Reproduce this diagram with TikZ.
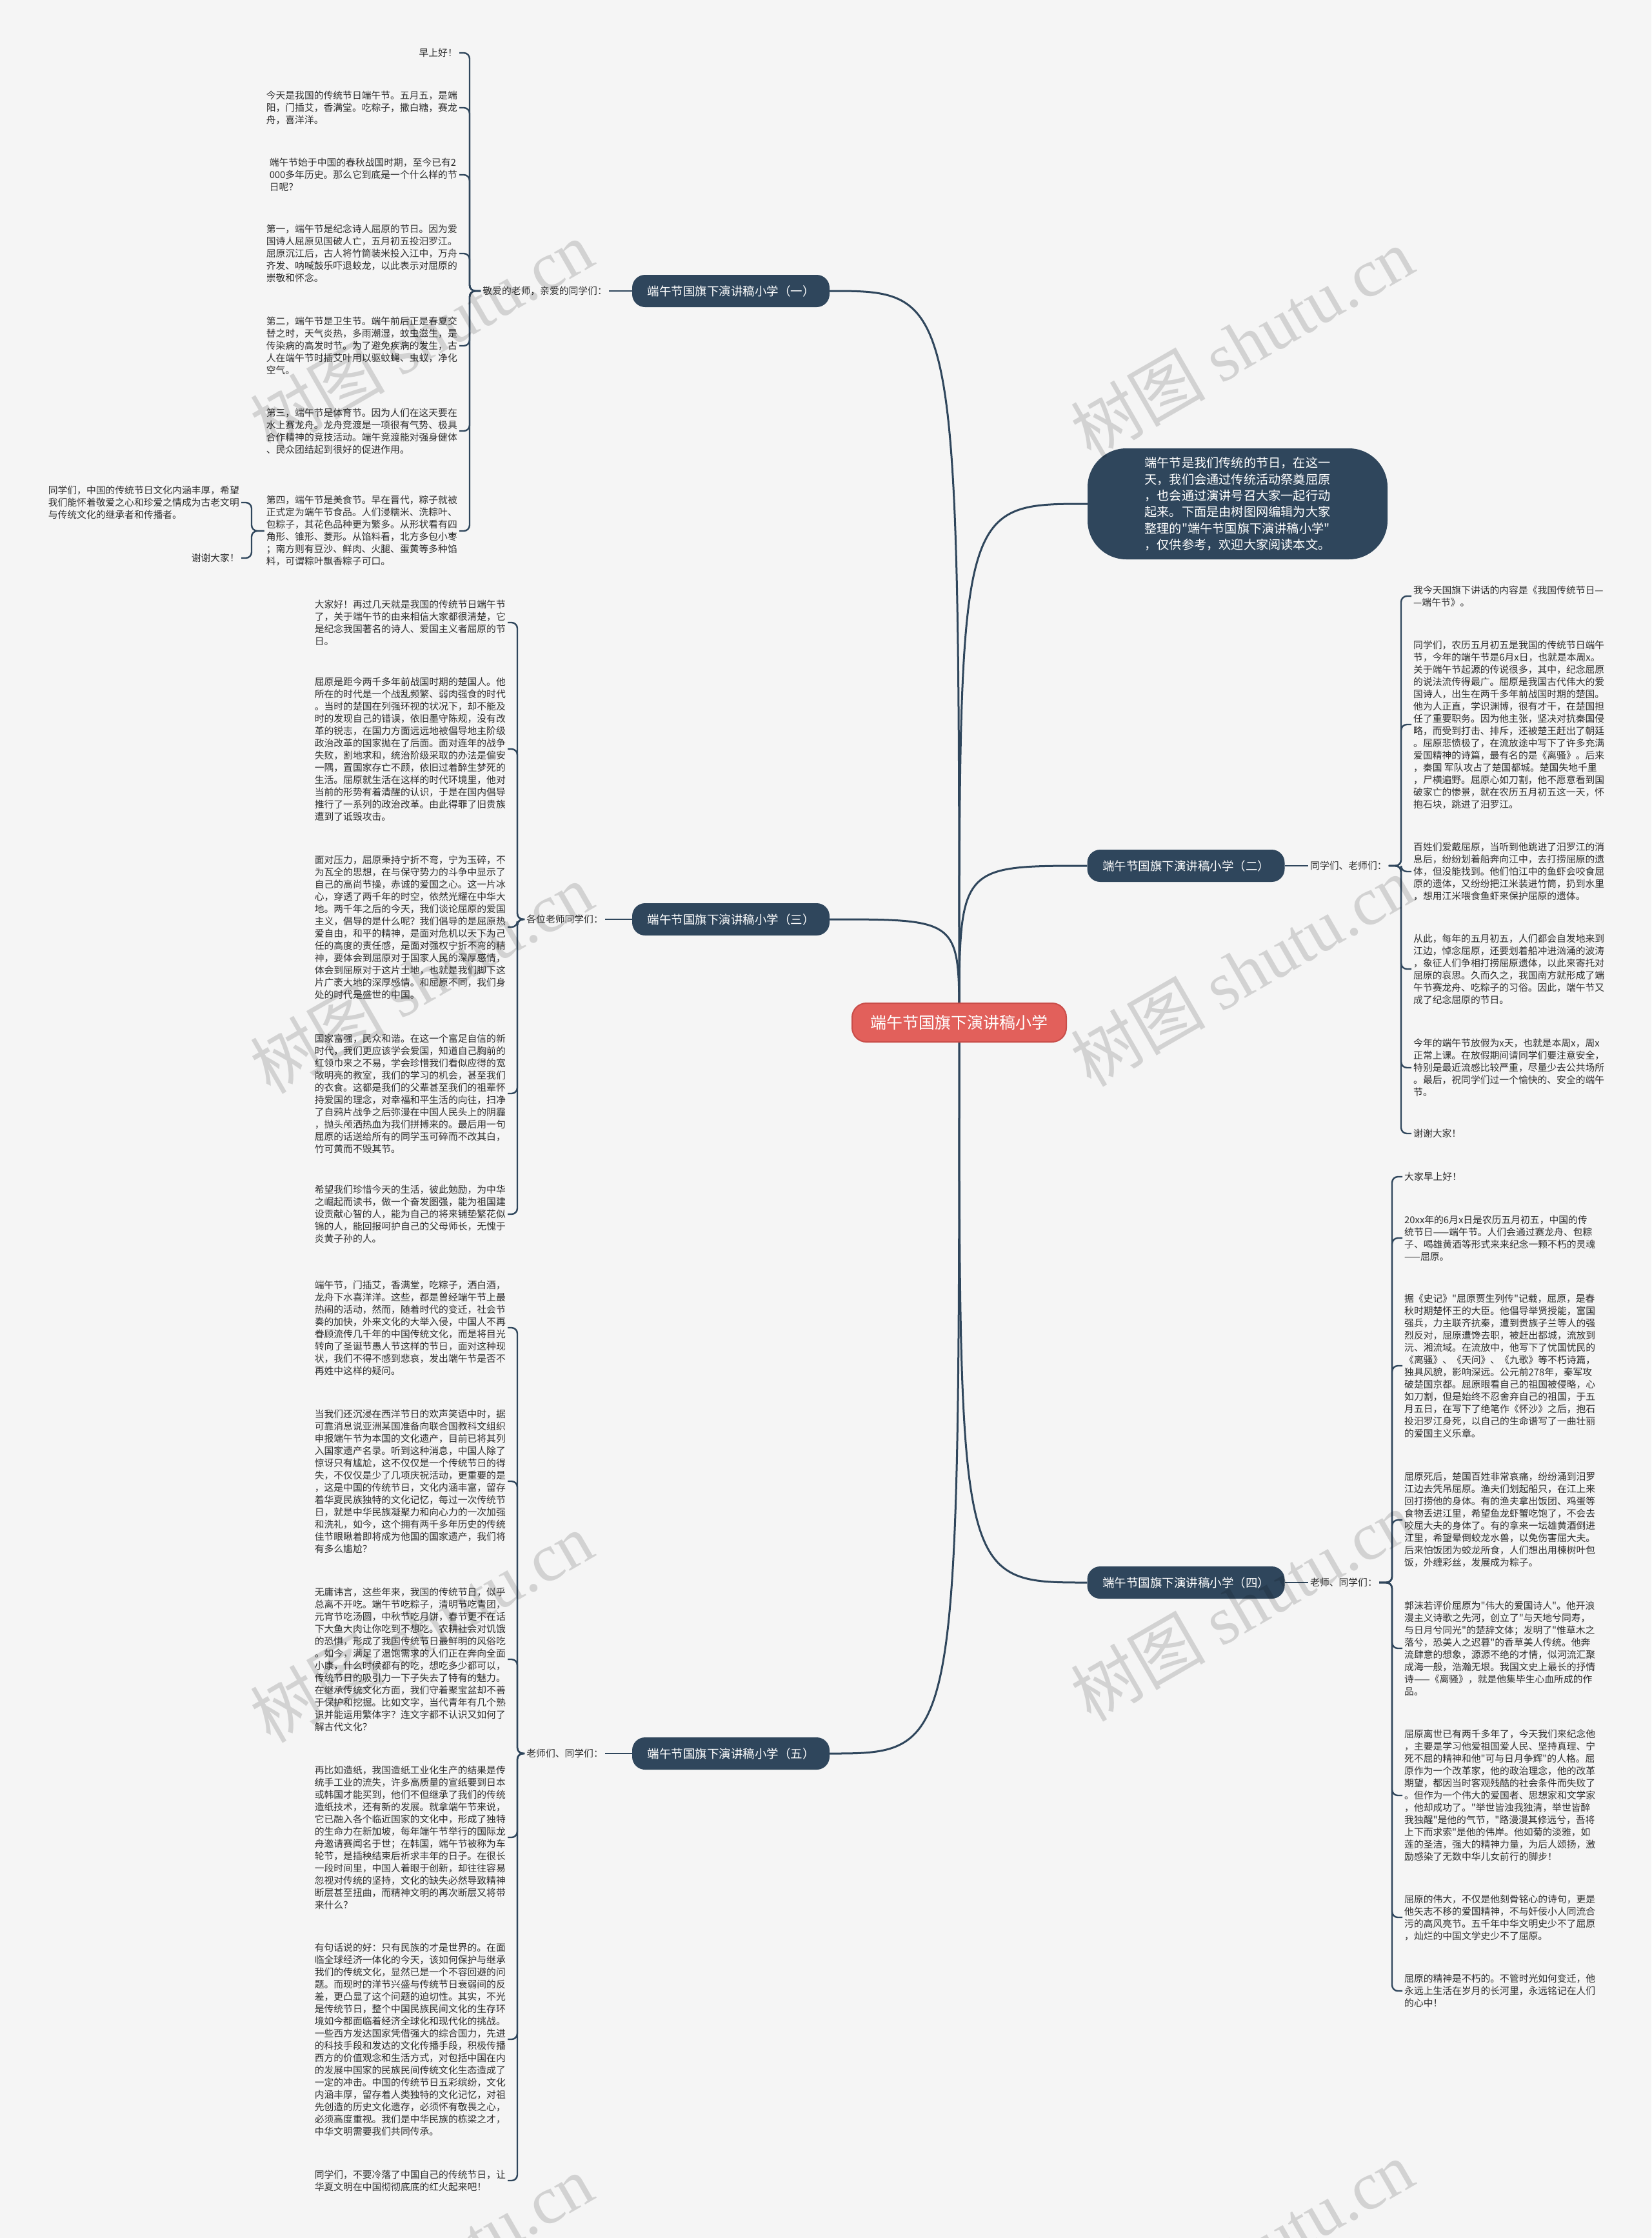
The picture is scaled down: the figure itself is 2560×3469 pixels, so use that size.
\documentclass[tikz,border=0pt]{standalone}
\usepackage{fontspec}
\setmainfont{Noto Sans CJK SC}
\newfontfamily\cjk{Noto Sans CJK SC}
\newfontfamily\wmlat{Liberation Serif}
\usetikzlibrary{backgrounds}
\definecolor{bgc}{HTML}{F5F5F5}
\definecolor{navy}{HTML}{2F465C}
\definecolor{linec}{HTML}{2F465C}
\definecolor{redc}{HTML}{E2605B}
\definecolor{redb}{HTML}{C94D49}
\definecolor{txtc}{HTML}{2E2E2E}
\begin{document}
\begin{tikzpicture}[x=1pt,y=-1pt,
  txt/.style={font=\cjk\fontsize{14.8}{19}\selectfont, text=txtc, align=left, inner sep=3pt},
  lch/.style={txt, anchor=east},
  rch/.style={txt, anchor=west},
  brn/.style={fill=navy, text=white, rounded corners=20pt, minimum width=306pt, minimum height=50pt, inner sep=0pt, font=\cjk\fontsize{18.5}{22}\selectfont},
  link/.style={draw=linec, line width=3pt},
  sub/.style={draw=linec, line width=2.4pt, rounded corners=9pt},
  wm/.style={text=black, opacity=0.14, font=\cjk\fontsize{105}{110}\selectfont, rotate=30}
]
\useasboundingbox (0,0) rectangle (2560,3469);

% ---------- root and main branches ----------
\node[fill=redc, draw=redb, line width=2pt, text=white, rounded corners=22pt, minimum width=332pt, minimum height=60pt, inner sep=0pt, font=\cjk\fontsize{25}{30}\selectfont] (root) at (1487,1585) {端午节国旗下演讲稿小学};

\node[fill=navy, text=white, rounded corners=60pt, minimum width=465pt, minimum height=172pt, align=left, font=\cjk\fontsize{19.2}{25.3}\selectfont] (intro) at (1918.5,781) {端午节是我们传统的节日，在这一\\天，我们会通过传统活动祭奠屈原\\，也会通过演讲号召大家一起行动\\起来。下面是由树图网编辑为大家\\整理的"端午节国旗下演讲稿小学"\\，仅供参考，欢迎大家阅读本文。};

\node[brn] (b1) at (1133,451) {端午节国旗下演讲稿小学（一）};
\node[brn] (b3) at (1133,1425) {端午节国旗下演讲稿小学（三）};
\node[brn] (b5) at (1133,2718) {端午节国旗下演讲稿小学（五）};
\node[brn] (b2) at (1838.5,1342) {端午节国旗下演讲稿小学（二）};
\node[brn] (b4) at (1838.5,2453) {端午节国旗下演讲稿小学（四）};

% ---------- labels ----------
\node[lch] (l1) at (944,451) {敬爱的老师，亲爱的同学们：};
\node[lch] (l3) at (938,1425) {各位老师同学们：};
\node[lch] (l5) at (938,2718) {老师们、同学们：};
\node[rch] (l2) at (2028,1342) {同学们、老师们：};
\node[rch] (l4) at (2028,2453) {老师、同学们：};

\coordinate (s1) at (728,451);
\coordinate (s3) at (802,1425);
\coordinate (s5) at (802,2718);
\coordinate (s2) at (2172,1342);
\coordinate (s4) at (2158,2453);
\coordinate (s17) at (390,823);

% ---------- branch 1 ----------
\node[lch] (c11) at (712,82) {早上好！};
\node[lch] (c12) at (712,167) {今天是我国的传统节日端午节。五月五，是端\\阳，门插艾，香满堂。吃粽子，撒白糖，赛龙\\舟，喜洋洋。};
\node[lch] (c13) at (712,271) {端午节始于中国的春秋战国时期，至今已有2\\000多年历史。那么它到底是一个什么样的节\\日呢？};
\node[lch] (c14) at (712,393) {第一，端午节是纪念诗人屈原的节日。因为爱\\国诗人屈原见国破人亡，五月初五投汨罗江。\\屈原沉江后，古人将竹筒装米投入江中，万舟\\齐发、呐喊鼓乐吓退蛟龙，以此表示对屈原的\\崇敬和怀念。};
\node[lch] (c15) at (712,536) {第二，端午节是卫生节。端午前后正是春夏交\\替之时，天气炎热，多雨潮湿，蚊虫滋生，是\\传染病的高发时节。为了避免疾病的发生，古\\人在端午节时插艾叶用以驱蚊蝇、虫蚁，净化\\空气。};
\node[lch] (c16) at (712,668) {第三，端午节是体育节。因为人们在这天要在\\水上赛龙舟。龙舟竞渡是一项很有气势、极具\\合作精神的竞技活动。端午竞渡能对强身健体\\、民众团结起到很好的促进作用。};
\node[lch] (c17) at (712,823) {第四，端午节是美食节。早在晋代，粽子就被\\正式定为端午节食品。人们浸糯米、洗粽叶、\\包粽子，其花色品种更为繁多。从形状看有四\\角形、锥形、菱形。从馅料看，北方多包小枣\\；南方则有豆沙、鲜肉、火腿、蛋黄等多种馅\\料，可谓粽叶飘香粽子可口。};
\node[lch] (n1) at (374,779) {同学们，中国的传统节日文化内涵丰厚，希望\\我们能怀着敬爱之心和珍爱之情成为古老文明\\与传统文化的继承者和传播者。};
\node[lch] (n2) at (374,865) {谢谢大家！};

% ---------- branch 3 ----------
\node[lch] (c31) at (787,965) {大家好！再过几天就是我国的传统节日端午节\\了，关于端午节的由来相信大家都很清楚，它\\是纪念我国著名的诗人、爱国主义者屈原的节\\日。};
\node[lch] (c32) at (787,1161) {屈原是距今两千多年前战国时期的楚国人。他\\所在的时代是一个战乱频繁、弱肉强食的时代\\。当时的楚国在列强环视的状况下，却不能及\\时的发现自己的错误，依旧墨守陈规，没有改\\革的锐志，在国力方面远远地被倡导地主阶级\\政治改革的国家抛在了后面。面对连年的战争\\失败，割地求和，统治阶级采取的办法是偏安\\一隅，置国家存亡不顾，依旧过着醉生梦死的\\生活。屈原就生活在这样的时代环境里，他对\\当前的形势有着清醒的认识，于是在国内倡导\\推行了一系列的政治改革。由此得罪了旧贵族\\遭到了诋毁攻击。};
\node[lch] (c33) at (787,1437) {面对压力，屈原秉持宁折不弯，宁为玉碎，不\\为瓦全的思想，在与保守势力的斗争中显示了\\自己的高尚节操，赤诚的爱国之心。这一片冰\\心，穿透了两千年的时空，依然光耀在中华大\\地。两千年之后的今天，我们谈论屈原的爱国\\主义，倡导的是什么呢？我们倡导的是屈原热\\爱自由，和平的精神，是面对危机以天下为己\\任的高度的责任感，是面对强权宁折不弯的精\\神，要体会到屈原对于国家人民的深厚感情，\\体会到屈原对于这片土地，也就是我们脚下这\\片广袤大地的深厚感情。和屈原不同，我们身\\处的时代是盛世的中国。};
\node[lch] (c34) at (787,1695) {国家富强，民众和谐。在这一个富足自信的新\\时代，我们更应该学会爱国，知道自己胸前的\\红领巾来之不易，学会珍惜我们看似应得的宽\\敞明亮的教室，我们的学习的机会，甚至我们\\的衣食。这都是我们的父辈甚至我们的祖辈怀\\持爱国的理念，对幸福和平生活的向往，扫净\\了自鸦片战争之后弥漫在中国人民头上的阴霾\\，抛头颅洒热血为我们拼搏来的。最后用一句\\屈原的话送给所有的同学玉可碎而不改其白，\\竹可黄而不毁其节。};
\node[lch] (c35) at (787,1882) {希望我们珍惜今天的生活，彼此勉励，为中华\\之崛起而读书，做一个奋发图强，能为祖国建\\设贡献心智的人，能为自己的将来铺垫繁花似\\锦的人，能回报呵护自己的父母师长，无愧于\\炎黄子孙的人。};

% ---------- branch 5 ----------
\node[lch] (c51) at (787,2058) {端午节，门插艾，香满堂，吃粽子，洒白酒，\\龙舟下水喜洋洋。这些，都是曾经端午节上最\\热闹的活动，然而，随着时代的变迁，社会节\\奏的加快，外来文化的大举入侵，中国人不再\\眷顾流传几千年的中国传统文化，而是将目光\\转向了圣诞节愚人节这样的节日，面对这种现\\状，我们不得不感到悲哀，发出端午节是否不\\再姓中这样的疑问。};
\node[lch] (c52) at (787,2296) {当我们还沉浸在西洋节日的欢声笑语中时，据\\可靠消息说亚洲某国准备向联合国教科文组织\\申报端午节为本国的文化遗产，目前已将其列\\入国家遗产名录。听到这种消息，中国人除了\\惊讶只有尴尬，这不仅仅是一个传统节日的得\\失，不仅仅是少了几项庆祝活动，更重要的是\\，这是中国的传统节日，文化内涵丰富，留存\\着华夏民族独特的文化记忆，每过一次传统节\\日，就是中华民族凝聚力和向心力的一次加强\\和洗礼，如今，这个拥有两千多年历史的传统\\佳节眼瞅着即将成为他国的国家遗产，我们将\\有多么尴尬？};
\node[lch] (c53) at (787,2572) {无庸讳言，这些年来，我国的传统节日，似乎\\总离不开吃。端午节吃粽子，清明节吃青团，\\元宵节吃汤圆，中秋节吃月饼，春节更不在话\\下大鱼大肉让你吃到不想吃。农耕社会对饥饿\\的恐惧，形成了我国传统节日最鲜明的风俗吃\\。如今，满足了温饱需求的人们正在奔向全面\\小康，什么时候都有的吃，想吃多少都可以，\\传统节日的吸引力一下子失去了特有的魅力。\\在继承传统文化方面，我们守着聚宝盆却不善\\于保护和挖掘。比如文字，当代青年有几个熟\\识并能运用繁体字？连文字都不认识又如何了\\解古代文化？};
\node[lch] (c54) at (787,2848) {再比如造纸，我国造纸工业化生产的结果是传\\统手工业的流失，许多高质量的宣纸要到日本\\或韩国才能买到，他们不但继承了我们的传统\\造纸技术，还有新的发展。就拿端午节来说，\\它已融入各个临近国家的文化中，形成了独特\\的生命力在新加坡，每年端午节举行的国际龙\\舟邀请赛闻名于世；在韩国，端午节被称为车\\轮节，是插秧结束后祈求丰年的日子。在很长\\一段时间里，中国人着眼于创新，却往往容易\\忽视对传统的坚持，文化的缺失必然导致精神\\断层甚至扭曲，而精神文明的再次断层又将带\\来什么？};
\node[lch] (c55) at (787,3161) {有句话说的好：只有民族的才是世界的。在面\\临全球经济一体化的今天，该如何保护与继承\\我们的传统文化，显然已是一个不容回避的问\\题。而现时的洋节兴盛与传统节日衰弱间的反\\差，更凸显了这个问题的迫切性。其实，不光\\是传统节日，整个中国民族民间文化的生存环\\境如今都面临着经济全球化和现代化的挑战。\\一些西方发达国家凭借强大的综合国力，先进\\的科技手段和发达的文化传播手段，积极传播\\西方的价值观念和生活方式，对包括中国在内\\的发展中国家的民族民间传统文化生态造成了\\一定的冲击。中国的传统节日五彩缤纷，文化\\内涵丰厚，留存着人类独特的文化记忆，对祖\\先创造的历史文化遗存，必须怀有敬畏之心，\\必须高度重视。我们是中华民族的栋梁之才，\\中华文明需要我们共同传承。};
\node[lch] (c56) at (787,3380) {同学们，不要冷落了中国自己的传统节日，让\\华夏文明在中国彻彻底底的红火起来吧！};

% ---------- branch 2 ----------
\node[rch] (c21) at (2188,924) {我今天国旗下讲话的内容是《我国传统节日—\\—端午节》。};
\node[rch] (c22) at (2188,1123) {同学们，农历五月初五是我国的传统节日端午\\节，今年的端午节是6月x日，也就是本周x。\\关于端午节起源的传说很多，其中，纪念屈原\\的说法流传得最广。屈原是我国古代伟大的爱\\国诗人，出生在两千多年前战国时期的楚国。\\他为人正直，学识渊博，很有才干，在楚国担\\任了重要职务。因为他主张，坚决对抗秦国侵\\略，而受到打击、排斥，还被楚王赶出了朝廷\\。屈原悲愤极了，在流放途中写下了许多充满\\爱国精神的诗篇，最有名的是《离骚》。后来\\，秦国 军队攻占了楚国都城。楚国失地千里\\，尸横遍野。屈原心如刀割，他不愿意看到国\\破家亡的惨景，就在农历五月初五这一天，怀\\抱石块，跳进了汨罗江。};
\node[rch] (c23) at (2188,1351) {百姓们爱戴屈原，当听到他跳进了汨罗江的消\\息后，纷纷划着船奔向江中，去打捞屈原的遗\\体，但没能找到。他们怕江中的鱼虾会咬食屈\\原的遗体，又纷纷把江米装进竹筒，扔到水里\\，想用江米喂食鱼虾来保护屈原的遗体。};
\node[rch] (c24) at (2188,1502) {从此，每年的五月初五，人们都会自发地来到\\江边，悼念屈原，还要划着船冲进汹涌的波涛\\，象征人们争相打捞屈原遗体，以此来寄托对\\屈原的哀思。久而久之，我国南方就形成了端\\午节赛龙舟、吃粽子的习俗。因此，端午节又\\成了纪念屈原的节日。};
\node[rch] (c25) at (2188,1655) {今年的端午节放假为x天，也就是本周x，周x\\正常上课。在放假期间请同学们要注意安全，\\特别是最近流感比较严重，尽量少去公共场所\\。最后，祝同学们过一个愉快的、安全的端午\\节。};
\node[rch] (c26) at (2188,1757) {谢谢大家！};

% ---------- branch 4 ----------
\node[rch] (c41) at (2174,1824) {大家早上好！};
\node[rch] (c42) at (2174,1919) {20xx年的6月x日是农历五月初五，中国的传\\统节日——端午节。人们会通过赛龙舟、包粽\\子、喝雄黄酒等形式来来纪念一颗不朽的灵魂\\——屈原。};
\node[rch] (c43) at (2174,2117) {据《史记》"屈原贾生列传"记载，屈原，是春\\秋时期楚怀王的大臣。他倡导举贤授能，富国\\强兵，力主联齐抗秦，遭到贵族子兰等人的强\\烈反对，屈原遭馋去职，被赶出都城，流放到\\沅、湘流域。在流放中，他写下了忧国忧民的\\《离骚》、《天问》、《九歌》等不朽诗篇，\\独具风貌，影响深远。公元前278年，秦军攻\\破楚国京都。屈原眼看自己的祖国被侵略，心\\如刀割，但是始终不忍舍弃自己的祖国，于五\\月五日，在写下了绝笔作《怀沙》之后，抱石\\投汨罗江身死，以自己的生命谱写了一曲壮丽\\的爱国主义乐章。};
\node[rch] (c44) at (2174,2356) {屈原死后，楚国百姓非常哀痛，纷纷涌到汨罗\\江边去凭吊屈原。渔夫们划起船只，在江上来\\回打捞他的身体。有的渔夫拿出饭团、鸡蛋等\\食物丢进江里，希望鱼龙虾蟹吃饱了，不会去\\咬屈大夫的身体了。有的拿来一坛雄黄酒倒进\\江里，希望晕倒蛟龙水兽，以免伤害屈大夫。\\后来怕饭团为蛟龙所食，人们想出用楝树叶包\\饭，外缠彩丝，发展成为粽子。};
\node[rch] (c45) at (2174,2555) {郭沫若评价屈原为"伟大的爱国诗人"。他开浪\\漫主义诗歌之先河，创立了"与天地兮同寿，\\与日月兮同光"的楚辞文体；发明了"惟草木之\\落兮，恐美人之迟暮"的香草美人传统。他奔\\流肆意的想象，源源不绝的才情，似河流汇聚\\成海一般，浩瀚无垠。我国文史上最长的抒情\\诗——《离骚》，就是他集毕生心血所成的作\\品。};
\node[rch] (c46) at (2174,2783) {屈原离世已有两千多年了，今天我们来纪念他\\，主要是学习他爱祖国爱人民、坚持真理、宁\\死不屈的精神和他"可与日月争辉"的人格。屈\\原作为一个改革家，他的政治理念，他的改革\\期望，都因当时客观残酷的社会条件而失败了\\。但作为一个伟大的爱国者、思想家和文学家\\，他却成功了。"举世皆浊我独清，举世皆醉\\我独醒"是他的气节，"路漫漫其修远兮，吾将\\上下而求索"是他的伟岸。他如菊的淡雅，如\\莲的圣洁，强大的精神力量，为后人颂扬，激\\励感染了无数中华儿女前行的脚步！};
\node[rch] (c47) at (2174,2972) {屈原的伟大，不仅是他刻骨铭心的诗句，更是\\他矢志不移的爱国精神，不与奸佞小人同流合\\污的高风亮节。五千年中华文明史少不了屈原\\，灿烂的中国文学史少不了屈原。};
\node[rch] (c48) at (2174,3086) {屈原的精神是不朽的。不管时光如何变迁，他\\永远上生活在岁月的长河里，永远铭记在人们\\的心中！};

% ---------- connectors ----------
\begin{pgfonlayer}{background}
\fill[bgc] (0,0) rectangle (2560,3469);
\draw[link] (root.center) .. controls (root.center |- b1.east) and (root.center |- b1.east) .. (b1.east);
\draw[link] (root.center) .. controls (root.center |- b3.east) and (root.center |- b3.east) .. (b3.east);
\draw[link] (root.center) .. controls (root.center |- b5.east) and (root.center |- b5.east) .. (b5.east);
\draw[link] (root.center) .. controls (root.center |- b2.west) and (root.center |- b2.west) .. (b2.west);
\draw[link] (root.center) .. controls (root.center |- b4.west) and (root.center |- b4.west) .. (b4.west);
\draw[link] (root.center) .. controls (root.center |- intro.west) and (root.center |- intro.west) .. (intro.west);

\draw[sub] (b1.west) -- (l1.east);
\draw[sub] (b3.west) -- (l3.east);
\draw[sub] (b5.west) -- (l5.east);
\draw[sub] (b2.east) -- (l2.west);
\draw[sub] (b4.east) -- (l4.west);

\foreach \c in {c11,c12,c13,c14,c15,c16,c17}
  \draw[sub] (l1.west) -- (s1) |- (\c.east);
\foreach \c in {n1,n2}
  \draw[sub] (c17.west) -- (s17) |- (\c.east);
\foreach \c in {c31,c32,c33,c34,c35}
  \draw[sub] (l3.west) -- (s3) |- (\c.east);
\foreach \c in {c51,c52,c53,c54,c55,c56}
  \draw[sub] (l5.west) -- (s5) |- (\c.east);
\foreach \c in {c21,c22,c23,c24,c25,c26}
  \draw[sub] (l2.east) -- (s2) |- (\c.west);
\foreach \c in {c41,c42,c43,c44,c45,c46,c47,c48}
  \draw[sub] (l4.east) -- (s4) |- (\c.west);
\end{pgfonlayer}

% ---------- watermarks ----------
\node[wm] (wm1) at (653,520) {树图 {\wmlat shutu.cn}};
\node[wm] (wm2) at (1925,531) {树图 {\wmlat shutu.cn}};
\node[wm] (wm3) at (653,1516) {树图 {\wmlat shutu.cn}};
\node[wm] (wm4) at (1925,1505) {树图 {\wmlat shutu.cn}};
\node[wm] (wm5) at (653,2522) {树图 {\wmlat shutu.cn}};
\node[wm] (wm6) at (1925,2489) {树图 {\wmlat shutu.cn}};
\node[wm] (wm7) at (653,3518) {树图 {\wmlat shutu.cn}};
\node[wm] (wm8) at (1925,3496) {树图 {\wmlat shutu.cn}};
\end{tikzpicture}
\end{document}
